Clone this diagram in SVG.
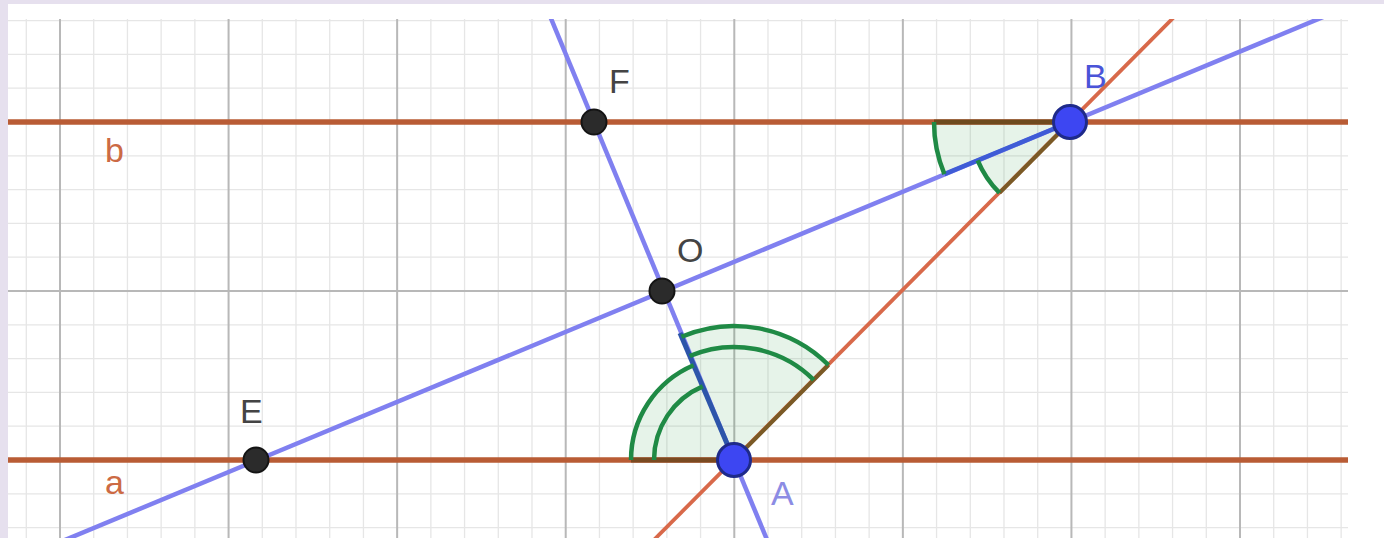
<svg xmlns="http://www.w3.org/2000/svg" width="1384" height="538" viewBox="0 0 1384 538">
  <defs>
    <clipPath id="area"><rect x="8" y="19" width="1340" height="519"/></clipPath>
    <style>
      .minor { stroke: #e6e6e6; stroke-width: 1.3; fill: none; }
      .major { stroke: #b8b8b8; stroke-width: 2; fill: none; }
      .par { stroke: #b95c35; stroke-width: 5.5; fill: none; }
      .ab { stroke: #d8694a; stroke-width: 3.8; fill: none; }
      .blue { stroke: #8080f0; stroke-width: 4.5; fill: none; }
      .fill { fill: #2e9a4a; fill-opacity: 0.12; stroke: none; }
      .arc { stroke: #1f8a45; stroke-width: 4.5; fill: none; }
      .blk { fill: #2b2b2b; stroke: #141414; stroke-width: 2; }
      .bpt { fill: #3d46f2; stroke: #1e2a8a; stroke-width: 3; }
      .lbl { font-family: "Liberation Sans", Arial, sans-serif; font-size: 34px; }
    </style>
  </defs>

  <!-- background -->
  <rect x="0" y="0" width="1384" height="538" fill="#e6e0ee"/>
  <rect x="8" y="4" width="1376" height="534" fill="#ffffff"/>

  <!-- grid -->
  <g id="grid" clip-path="url(#area)">
    <path class="minor" d="M26.29 19V538M93.71 19V538M127.43 19V538M161.14 19V538M194.86 19V538M262.29 19V538M296 19V538M329.71 19V538M363.43 19V538M430.86 19V538M464.57 19V538M498.29 19V538M532 19V538M599.43 19V538M633.14 19V538M666.86 19V538M700.57 19V538M768 19V538M801.71 19V538M835.43 19V538M869.14 19V538M936.57 19V538M970.29 19V538M1004 19V538M1037.71 19V538M1105.14 19V538M1138.86 19V538M1172.57 19V538M1206.29 19V538M1273.71 19V538M1307.43 19V538M1341.14 19V538
      M8 20.6H1348M8 54.4H1348M8 88.2H1348M8 155.8H1348M8 189.6H1348M8 223.4H1348M8 257.2H1348M8 324.8H1348M8 358.6H1348M8 392.4H1348M8 426.2H1348M8 493.8H1348M8 527.6H1348"/>
    <path class="major" d="M60 19V538M228.57 19V538M397.14 19V538M565.71 19V538M734.29 19V538M902.86 19V538M1071.43 19V538M1240 19V538M8 122H1348M8 291H1348M8 460H1348"/>
  </g>

  <!-- angle fills -->
  <g id="angle-fills">
    <path class="fill" d="M734 460L828.5 365A134 134 0 0 0 681.5 336.7Z"/>
    <path class="fill" d="M734 460L693.6 365.2A103 103 0 0 0 631 460Z"/>
    <path class="fill" d="M1070 122L934 122A136 136 0 0 0 944.4 174.2Z"/>
    <path class="fill" d="M1070 122L977.65 160.35A100 100 0 0 0 999.5 192.9Z"/>
  </g>

  <!-- connectors: lines -->
  <g id="connectors" clip-path="url(#area)">
    <path id="line-b" class="par" d="M8 122H1348"/>
    <path id="line-a" class="par" d="M8 460H1348"/>
    <path id="line-AB" class="ab" d="M630 564L1190 1"/>
    <path id="line-EB" class="blue" d="M12 562L1340 10"/>
    <path id="line-FA" class="blue" d="M545 4L775 559"/>
    <!-- sector edges over the lines -->
    <path d="M734 460L680 333" stroke="#2d55aa" stroke-width="5" fill="none"/>
    <path d="M631 460H734" stroke="#7a4a22" stroke-width="5" fill="none"/>
    <path d="M734 460L828.5 365" stroke="#7a5a26" stroke-width="4" fill="none"/>
    <path d="M934 122H1070" stroke="#6e4a1e" stroke-width="5" fill="none"/>
    <path d="M1070 122L944.4 174.2" stroke="#3f5cd6" stroke-width="4.5" fill="none"/>
    <path d="M1070 122L999.5 192.9" stroke="#7a5a26" stroke-width="4" fill="none"/>
  </g>

  <!-- angle arcs -->
  <g id="angle-A-right">
    <path class="arc" d="M828.5 365A134 134 0 0 0 681.5 336.7"/>
    <path class="arc" d="M813.7 379.9A113 113 0 0 0 689.7 356"/>
  </g>
  <g id="angle-A-left">
    <path class="arc" d="M693.6 365.2A103 103 0 0 0 631 460"/>
    <path class="arc" d="M702.7 386.4A80 80 0 0 0 654 460"/>
  </g>
  <g id="angle-B-upper">
    <path class="arc" d="M934 122A136 136 0 0 0 944.4 174.2"/>
  </g>
  <g id="angle-B-lower">
    <path class="arc" d="M977.65 160.35A100 100 0 0 0 999.5 192.9"/>
  </g>

  <!-- points -->
  <g id="point-F"><circle class="blk" cx="594" cy="122" r="12.5"/><text class="lbl" x="609" y="93" fill="#444444">F</text></g>
  <g id="point-O"><circle class="blk" cx="662" cy="291" r="12.5"/><text class="lbl" x="677" y="262" fill="#444444">O</text></g>
  <g id="point-E"><circle class="blk" cx="256" cy="460" r="12.5"/><text class="lbl" x="240" y="423" fill="#444444">E</text></g>
  <g id="point-A"><circle class="bpt" cx="734" cy="460" r="16.5"/><text class="lbl" x="771" y="505" fill="#8c8ce4">A</text></g>
  <g id="point-B"><circle class="bpt" cx="1070" cy="122" r="16.5"/><text class="lbl" x="1084" y="88" fill="#4a54d8">B</text></g>

  <!-- line labels -->
  <g id="label-b"><text class="lbl" x="105" y="162" fill="#cc6a44">b</text></g>
  <g id="label-a"><text class="lbl" x="105" y="494" fill="#cc6a44">a</text></g>
</svg>
